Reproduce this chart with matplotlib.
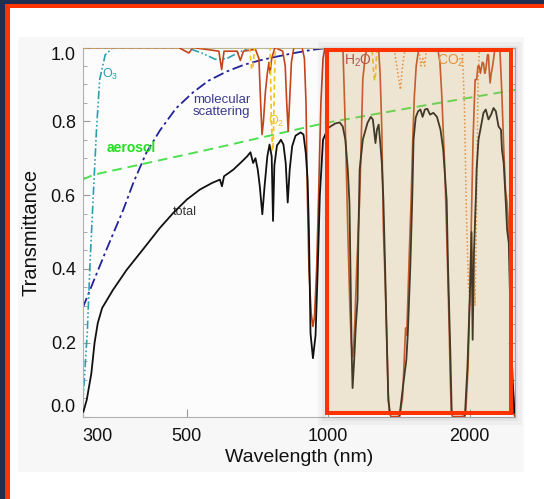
"""
大气透过率随波长变化 (total / H2O / O2 / CO2 / O3 / molecular / aerosol)
"""
import matplotlib
matplotlib.use('Agg')
import matplotlib.pyplot as plt
from matplotlib.patches import Rectangle
from matplotlib.ticker import FixedLocator, NullLocator, MultipleLocator

OUT_FILE = 'out.png'
W, H = 544, 499
DPI = 100

# ---------------- 数据 ----------------
X_TICKS = [300, 500, 1000, 2000]
X_TICK_LABELS = ['300', '500', '1000', '2000']
Y_TICKS = [0.0, 0.2, 0.4, 0.6, 0.8, 1.0]

TOTAL_WL = [301, 306, 313, 318, 323, 330, 348, 372, 405, 438, 468, 500, 533, 566,
            588, 594, 600, 628, 655, 672, 683, 692, 700, 708, 715, 724, 732, 742,
            750, 758, 763, 768, 778, 785, 793, 803, 812, 820, 828, 838, 852, 874,
            886, 896, 904, 910, 917, 928, 940, 950, 960, 975, 1000, 1035, 1058,
            1074, 1088, 1101, 1110, 1118, 1122, 1127, 1136, 1145, 1155, 1160, 1167,
            1185, 1213, 1232, 1245, 1261, 1270, 1281, 1291, 1301, 1311, 1322, 1332,
            1343, 1354, 1420, 1443, 1467, 1478, 1496, 1510, 1520, 1536, 1554, 1572,
            1589, 1607, 1626, 1648, 1675, 1705, 1735, 1758, 1770, 1788, 1800, 1820,
            1833, 1956, 1980, 2007, 2020, 2031, 2045, 2064, 2071, 2090, 2109, 2142,
            2166, 2195, 2223, 2250, 2276, 2306, 2334, 2345, 2365, 2386, 2405, 2425,
            2444, 2470, 2495]
TOTAL_T = [0.013, 0.045, 0.117, 0.20, 0.253, 0.294, 0.343, 0.397, 0.456, 0.511, 0.552,
           0.588, 0.615, 0.633, 0.642, 0.624, 0.651, 0.669, 0.691, 0.705, 0.716, 0.687,
           0.700, 0.669, 0.624, 0.548, 0.624, 0.705, 0.737, 0.705, 0.53, 0.68, 0.735,
           0.741, 0.75, 0.737, 0.687, 0.58, 0.669, 0.732, 0.761, 0.77, 0.764, 0.714,
           0.642, 0.50, 0.226, 0.158, 0.22, 0.40, 0.60, 0.75, 0.782, 0.794, 0.797,
           0.786, 0.75, 0.669, 0.579, 0.316, 0.18, 0.077, 0.153, 0.244, 0.316, 0.50,
           0.669, 0.75, 0.796, 0.812, 0.805, 0.741, 0.777, 0.791, 0.741, 0.687, 0.587,
           0.406, 0.226, 0.045, 0.01, 0.005, 0.08, 0.153, 0.226, 0.406, 0.587, 0.75,
           0.81, 0.827, 0.832, 0.812, 0.832, 0.834, 0.818, 0.823, 0.812, 0.777, 0.723,
           0.669, 0.587, 0.406, 0.18, 0.01, 0.005, 0.135, 0.361, 0.50, 0.208, 0.45,
           0.60, 0.669, 0.75, 0.777, 0.823, 0.832, 0.805, 0.818, 0.836, 0.827, 0.786,
           0.777, 0.723, 0.687, 0.596, 0.506, 0.47, 0.28, 0.10, 0.01]

H2O_WL = [300, 480, 505, 515, 585, 593, 600, 640, 650, 660, 700, 712, 718, 723, 728,
          735, 742, 748, 752, 758, 770, 800, 810, 816, 822, 828, 835, 845, 880, 890,
          897, 903, 910, 920, 928, 935, 945, 955, 965, 975, 985, 1075, 1088, 1101,
          1112, 1120, 1127, 1133, 1140, 1150, 1167, 1176, 1185, 1200, 1213, 1280,
          1290, 1301, 1311, 1322, 1332, 1343, 1350, 1360, 1420, 1440, 1455, 1462,
          1470, 1478, 1490, 1502, 1515, 1526, 1540, 1554, 1570, 1710, 1730, 1746,
          1760, 1770, 1788, 1800, 1811, 1820, 1830, 1840, 1955, 1965, 1986, 2007,
          2020, 2035, 2056, 2071, 2085, 2097, 2110, 2130, 2142, 2155, 2166, 2185,
          2195, 2205, 2213, 2225, 2240, 2262, 2280, 2320, 2334, 2345, 2365, 2386,
          2405, 2425, 2440, 2460, 2478, 2500]
H2O_T = [1.0, 1.0, 0.985, 1.0, 0.99, 0.94, 0.99, 0.99, 0.965, 0.99, 0.995, 0.97, 0.85,
         0.764, 0.80, 0.88, 0.93, 0.96, 0.93, 0.97, 1.0, 0.99, 0.95, 0.85, 0.773, 0.86,
         0.96, 1.0, 1.0, 0.97, 0.85, 0.60, 0.40, 0.28, 0.244, 0.27, 0.40, 0.62, 0.85,
         0.97, 1.0, 1.0, 0.777, 0.506, 0.30, 0.20, 0.162, 0.19, 0.26, 0.40, 0.587,
         0.75, 0.913, 0.98, 1.0, 1.0, 0.93, 0.777, 0.506, 0.37, 0.226, 0.06, 0.01,
         0.0, 0.0, 0.05, 0.18, 0.24, 0.22, 0.316, 0.46, 0.587, 0.76, 0.868, 0.95,
         0.984, 1.0, 1.0, 0.96, 0.868, 0.76, 0.687, 0.497, 0.36, 0.226, 0.10, 0.01,
         0.0, 0.0, 0.02, 0.135, 0.361, 0.55, 0.75, 0.913, 0.913, 0.95, 0.95, 0.93,
         0.96, 0.957, 0.93, 0.94, 0.98, 0.98, 0.93, 0.904, 0.93, 0.95, 0.99, 1.0,
         1.0, 0.93, 0.868, 0.732, 0.615, 0.579, 0.506, 0.40, 0.20, 0.01, 0.0]

O2_WL = [300, 680, 687, 692, 697, 752, 757, 761, 764, 768, 772, 1240, 1250, 1256,
         1262, 1270, 2500]
O2_T = [1.0, 1.0, 0.94, 0.95, 1.0, 1.0, 0.80, 0.72, 0.74, 0.90, 1.0, 1.0, 0.93, 0.91,
        0.93, 1.0, 1.0]

CO2_WL = [300, 1380, 1400, 1425, 1440, 1460, 1560, 1575, 1590, 1605, 1620, 1930,
          1950, 1970, 1990, 2010, 2025, 2040, 2055, 2070, 2085, 2100, 2500]
CO2_T = [1.0, 1.0, 0.95, 0.886, 0.95, 1.0, 1.0, 0.95, 0.97, 0.95, 1.0, 1.0, 0.85,
         0.55, 0.35, 0.30, 0.45, 0.40, 0.30, 0.55, 0.90, 1.0, 1.0]

O3_WL = [300, 307, 311, 316, 321, 326, 335, 348, 500, 540, 575, 608, 641, 680, 2500]
O3_T = [0.03, 0.235, 0.416, 0.60, 0.777, 0.913, 0.98, 1.0, 1.0, 0.984, 0.968, 0.970,
        0.985, 1.0, 1.0]

MOL_WL = [300, 316, 337, 366, 385, 410, 438, 474, 515, 556, 608, 661, 715, 775, 838,
          917, 1010, 2500]
MOL_T = [0.294, 0.365, 0.452, 0.56, 0.635, 0.715, 0.775, 0.835, 0.878, 0.91, 0.935,
         0.953, 0.965, 0.975, 0.984, 0.993, 1.0, 1.0]

AER_WL = [300, 316, 550, 990, 1570, 2500]
AER_T = [0.642, 0.655, 0.722, 0.796, 0.841, 0.885]

# 颜色
NAVY = '#1f2f4f'
SLIDE_RED = '#ff3300'
C_TOTAL = '#111111'
C_H2O = '#c4441c'
C_O2 = '#f2c31b'
C_CO2 = '#ee8a30'
C_O3 = '#2a9fb0'
C_MOL = '#22229a'
C_AER = '#4ee04e'

plt.rcParams['font.family'] = ['Liberation Sans', 'DejaVu Sans']


def px_rect(fig, x0, y0, x1, y1, **kw):
    """按像素(原点在左上)在 figure 上画矩形"""
    r = Rectangle((x0 / W, 1 - y1 / H), (x1 - x0) / W, (y1 - y0) / H,
                  transform=fig.transFigure, **kw)
    fig.add_artist(r)
    return r


def main():
    fig = plt.figure(figsize=(W / DPI, H / DPI), dpi=DPI, facecolor='white')

    # 幻灯片边框和灰色底板
    px_rect(fig, 0, 0, W, 4, facecolor=NAVY, edgecolor='none', zorder=0)
    px_rect(fig, 0, 0, 5, H, facecolor=NAVY, edgecolor='none', zorder=0)
    px_rect(fig, 5, 4, W, 7.5, facecolor=SLIDE_RED, edgecolor='none', zorder=0)
    px_rect(fig, 5, 4, 9.5, H, facecolor=SLIDE_RED, edgecolor='none', zorder=0)
    px_rect(fig, 17.5, 37, 524, 472, facecolor='#f7f7f7', edgecolor='none', zorder=0)

    ax = fig.add_axes([82.7 / W, 1 - 416.5 / H, 432.3 / W, 369 / H])
    ax.set_facecolor('#fcfcfc')
    ax.set_xscale('log')
    ax.set_xlim(300, 2500)
    ax.set_ylim(0, 1.0)

    ax.plot(AER_WL, AER_T, color=C_AER, lw=1.4, ls=(0, (5, 3)), zorder=2)
    ax.plot(MOL_WL, MOL_T, color=C_MOL, lw=1.3, ls=(0, (6, 2, 1.5, 2)), zorder=2)
    ax.plot(O3_WL, O3_T, color=C_O3, lw=1.2, ls=(0, (5, 1.5, 1, 1.5, 1, 1.5)), zorder=2)
    ax.plot(CO2_WL, CO2_T, color=C_CO2, lw=1.1, ls=(0, (1, 1.5)), zorder=2)
    ax.plot(H2O_WL, H2O_T, color=C_H2O, lw=1.2, zorder=3)
    ax.plot(O2_WL, O2_T, color=C_O2, lw=1.2, ls=(0, (3, 2)), zorder=3)
    ax.plot(TOTAL_WL, TOTAL_T, color=C_TOTAL, lw=1.3, zorder=4)

    # 曲线标注
    ax.text(495, 0.553, 'total', fontsize=9, color='#333333', ha='center', va='center')
    ax.text(381, 0.728, 'aerosol', fontsize=10, color='#22dd22', fontweight='bold',
            ha='center', va='center')
    ax.text(593, 0.841, 'molecular\nscattering', fontsize=9.5, color='#3a3a90',
            ha='center', va='center', linespacing=1.0)
    ax.text(343, 0.927, r'$\mathregular{O_3}$', fontsize=9, color=C_O3,
            ha='center', va='center')
    ax.text(776, 0.80, r'$\mathregular{O_2}$', fontsize=9, color=C_O2,
            ha='center', va='center')
    ax.text(1157, 0.963, r'$\mathregular{H_2O}$', fontsize=10, color='#b03040',
            ha='center', va='center', zorder=4)
    ax.text(1829, 0.963, r'$\mathregular{CO_2}$', fontsize=10, color=C_CO2,
            ha='center', va='center', zorder=4)

    # 高亮框 (外侧阴影 + 米色半透明覆盖 + 红边), 用像素换算成 axes 坐标
    ax_w, ax_h = 432.3, 369.0
    bx0, by0 = (326.7 - 82.7) / ax_w, (416.5 - 413) / ax_h
    bx1, by1 = (510.7 - 82.7) / ax_w, (416.5 - 50) / ax_h
    for grow, band, a in [(6, 8, 0.035), (4, 4, 0.04)]:
        gx, gy = grow / ax_w, grow / ax_h
        ax.add_patch(Rectangle((bx0 - gx + 1.5 / ax_w, by0 - gy - 2 / ax_h),
                               bx1 - bx0 + 2 * gx, by1 - by0 + 2 * gy,
                               transform=ax.transAxes, fill=False,
                               edgecolor=(0, 0, 0, a), lw=band * 0.72,
                               clip_on=False, zorder=4.5))
    ax.add_patch(Rectangle((bx0, by0), bx1 - bx0, by1 - by0, transform=ax.transAxes,
                           facecolor=(200 / 255, 165 / 255, 95 / 255, 0.27),
                           edgecolor='none', clip_on=False, zorder=5))
    ax.add_patch(Rectangle((bx0, by0), bx1 - bx0, by1 - by0, transform=ax.transAxes,
                           fill=False, edgecolor=SLIDE_RED, lw=2.9,
                           clip_on=False, zorder=6))

    # 坐标轴
    for s in ax.spines.values():
        s.set_color('#b0b0b0')
        s.set_linewidth(0.8)
    ax.xaxis.set_major_locator(FixedLocator(X_TICKS))
    ax.xaxis.set_minor_locator(NullLocator())
    ax.set_xticklabels(X_TICK_LABELS)
    ax.yaxis.set_major_locator(FixedLocator(Y_TICKS))
    ax.yaxis.set_minor_locator(MultipleLocator(0.05))
    ax.set_yticklabels([f'{v:.1f}' for v in Y_TICKS])
    ax.tick_params(axis='both', which='both', direction='in', color='#999999',
                   labelsize=13, labelcolor='#111111')
    ax.tick_params(axis='x', which='major', length=6, pad=8)
    ax.tick_params(axis='y', which='major', length=5, pad=5, right=True)
    ax.tick_params(axis='y', which='minor', length=3, right=True)

    ylabels = ax.get_yticklabels()
    ylabels[0].set_va('bottom')
    ylabels[-1].set_va('top')
    ax.get_xticklabels()[0].set_ha('left')

    ax.set_xlabel('Wavelength (nm)', fontsize=14, color='#111111', labelpad=3)
    ax.set_ylabel('Transmittance', fontsize=14.5, color='#111111', labelpad=7)

    fig.savefig(OUT_FILE, dpi=DPI)
    plt.close(fig)


if __name__ == '__main__':
    main()
